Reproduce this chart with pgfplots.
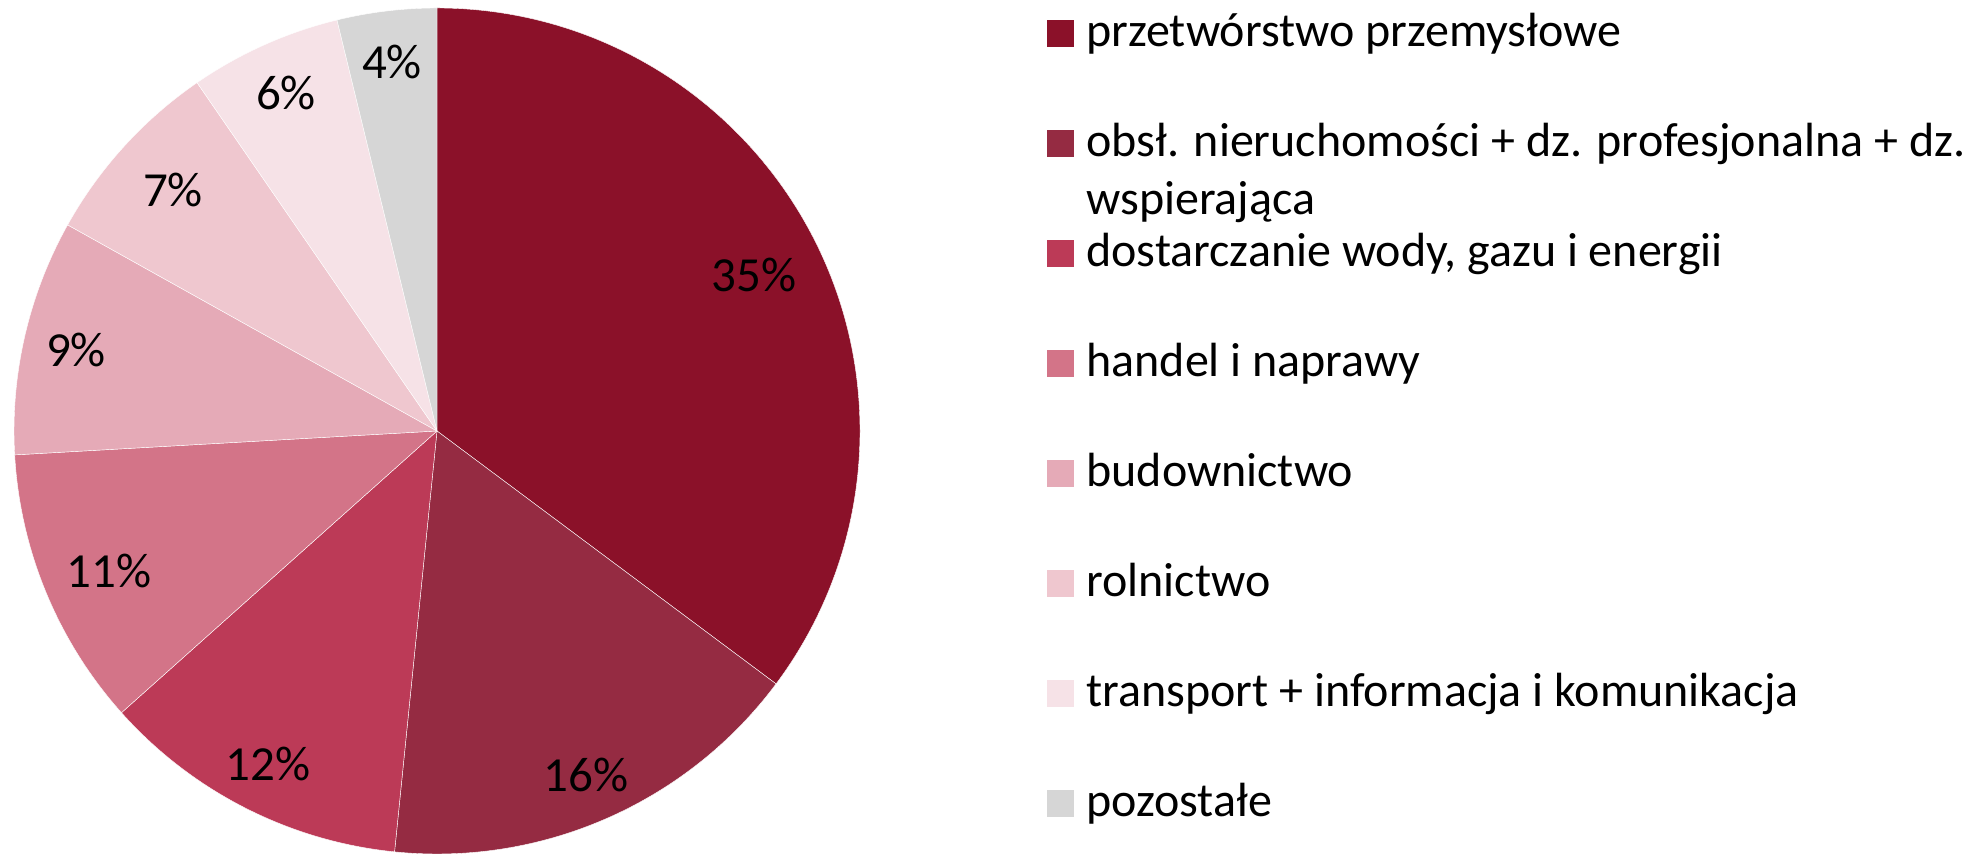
\documentclass[border=0pt]{standalone}
\usepackage{fontspec}
\setmainfont{Carlito}
\usepackage{pgfplots}
\usepackage{pgfplotstable}
\pgfplotsset{compat=1.18}
\definecolor{slice0}{HTML}{8B1129}
\definecolor{slice1}{HTML}{952B42}
\definecolor{slice2}{HTML}{BC3A57}
\definecolor{slice3}{HTML}{D37488}
\definecolor{slice4}{HTML}{E5AAB7}
\definecolor{slice5}{HTML}{EFC7CF}
\definecolor{slice6}{HTML}{F6E2E7}
\definecolor{slice7}{HTML}{D6D6D6}
% share of each sector (per cent), clockwise from 12 o'clock
\pgfplotstableread{
idx value
0 35.2
1 16.4
2 11.8
3 10.7
4 9.0
5 7.3
6 5.8
7 3.8
}\slices
% data label positions (pixel frame) and printed value
\pgfplotstableread{
x y lab
754 579 35
586 79 16
268 90 12
109 283 11
76 504 9
173 664 7
286 761 6
392 792 4
}\labels
\begin{document}
\begin{tikzpicture}[font=\fontsize{24}{28.5}\selectfont]
\begin{axis}[
  x=0.5pt, y=0.5pt,
  xmin=0, xmax=1977, ymin=0, ymax=854,
  hide axis, clip=false,
  /pgf/number format/assume math mode=true,
]
\pgfplotsextra{
  \gdef\cum{0}
  \foreach \i in {0,...,7}{
    \pgfplotstablegetelem{\i}{value}\of\slices
    \let\v=\pgfplotsretval
    \pgfmathsetmacro\sa{90-3.6*\cum}
    \pgfmathsetmacro\ea{90-3.6*(\cum+\v)}
    \fill[slice\i, draw=white, line width=0.2pt, line join=round]
      (axis cs:437,423) -- (axis cs:{437+423*cos(\sa)},{423+423*sin(\sa)})
      arc[start angle=\sa, end angle=\ea, radius=211.5pt] -- cycle;
    \pgfmathsetmacro\n{\cum+\v}
    \xdef\cum{\n}
  }
}
\addplot[draw=none, mark=none, nodes near coords={\pgfmathprintnumber[precision=0]{\pgfplotspointmeta}\%},
  point meta=explicit, nodes near coords align=center,
  every node near coord/.append style={font=\fontsize{24.5}{29}\selectfont, inner sep=0pt}]
  table[x=x, y=y, meta=lab] {\labels};
% legend
\pgfplotsextra{
  \foreach \i/\t in {0/przetwórstwo przemysłowe,
    1/obsł. nieruchomości + dz. profesjonalna + dz.,
    2/{dostarczanie wody, gazu i energii},
    3/handel i naprawy,
    4/budownictwo,
    5/rolnictwo,
    6/transport + informacja i komunikacja,
    7/pozostałe}{
    \pgfmathsetmacro\yb{854-47-110*\i}
    \fill[slice\i] (axis cs:1047,\yb) rectangle (axis cs:1074,\yb+27);
    \node[anchor=base west, inner sep=0pt] at (axis cs:1086,\yb) {\t};
  }
  \node[anchor=base west, inner sep=0pt] at (axis cs:1086,{854-47-110-58}) {wspierająca};
}
\end{axis}
\pgfresetboundingbox
\path (current axis.south west) rectangle (current axis.north east);
\end{tikzpicture}
\end{document}
